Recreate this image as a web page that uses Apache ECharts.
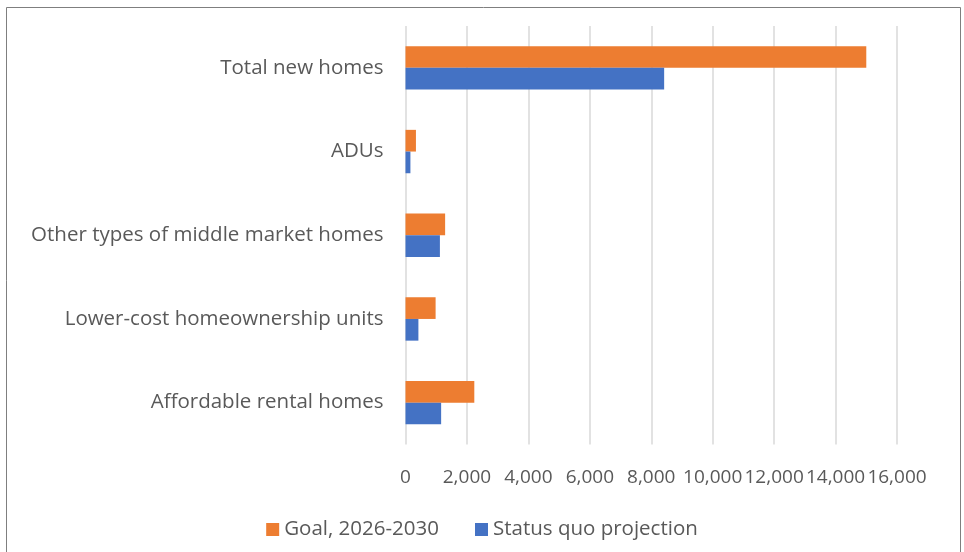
<!DOCTYPE html>
<html>
<head>
<meta charset="utf-8">
<script src="https://cdn.jsdelivr.net/npm/echarts@6/dist/echarts.min.js"></script>
<style>
  html, body { margin: 0; padding: 0; background: #fff; }
  #chart { width: 964px; height: 552px; }
</style>
</head>
<body>
<div id="chart"></div>
<script>
// categories top to bottom
const categories = [
  "Total new homes",
  "ADUs",
  "Other types of middle market homes",
  "Lower-cost homeownership units",
  "Affordable rental homes"
];
const goalValues = [15000, 340, 1290, 980, 2240];
const statusQuoValues = [8420, 160, 1120, 420, 1160];
const xTicks = [0, 2000, 4000, 6000, 8000, 10000, 12000, 14000, 16000];

const font = "'Open Sans', Lato, sans-serif";
const textColor = "#595959";

let chart = echarts.init(document.getElementById("chart"));
let option = {
  backgroundColor: "#fff",
  animation: false,
  graphic: [
    {
      type: "rect",
      shape: { x: 6.5, y: 7.5, width: 954, height: 560 },
      style: { fill: "none", stroke: "#7f7f7f", lineWidth: 1 }
    }
  ],
  legend: {
    data: ["Goal, 2026-2030", "Status quo projection"],
    left: "center",
    top: 514,
    icon: "rect",
    itemWidth: 13,
    itemHeight: 13,
    itemGap: 36,
    textStyle: { color: textColor, fontSize: 20.5, fontFamily: font }
  },
  grid: {
    left: 405.5,
    right: 67,
    top: 26,
    bottom: 107.5,
    containLabel: false
  },
  xAxis: {
    type: "value",
    min: xTicks[0],
    max: xTicks[xTicks.length - 1],
    interval: 2000,
    axisLine: { show: false },
    axisTick: { show: false },
    axisLabel: {
      margin: 24,
      color: textColor,
      fontSize: 19,
      fontFamily: font,
      showMinLabel: true,
      showMaxLabel: true,
      hideOverlap: false,
      formatter: function (v) { return v.toLocaleString("en-US"); }
    },
    splitLine: { show: true, lineStyle: { color: "#d9d9d9", width: 1.5 } }
  },
  yAxis: {
    type: "category",
    inverse: true,
    data: categories,
    axisLine: { show: false },
    axisTick: { show: false },
    axisLabel: {
      margin: 22,
      color: textColor,
      fontSize: 20.5,
      fontFamily: font,
      padding: [3, 0, 0, 0]
    }
  },
  series: [
    {
      name: "Goal, 2026-2030",
      type: "bar",
      data: goalValues,
      barWidth: 21.7,
      barGap: "0%",
      itemStyle: { color: "#ed7d31" }
    },
    {
      name: "Status quo projection",
      type: "bar",
      data: statusQuoValues,
      barWidth: 21.7,
      barGap: "0%",
      itemStyle: { color: "#4472c4" }
    }
  ]
};
chart.setOption(option);
</script>
</body>
</html>
